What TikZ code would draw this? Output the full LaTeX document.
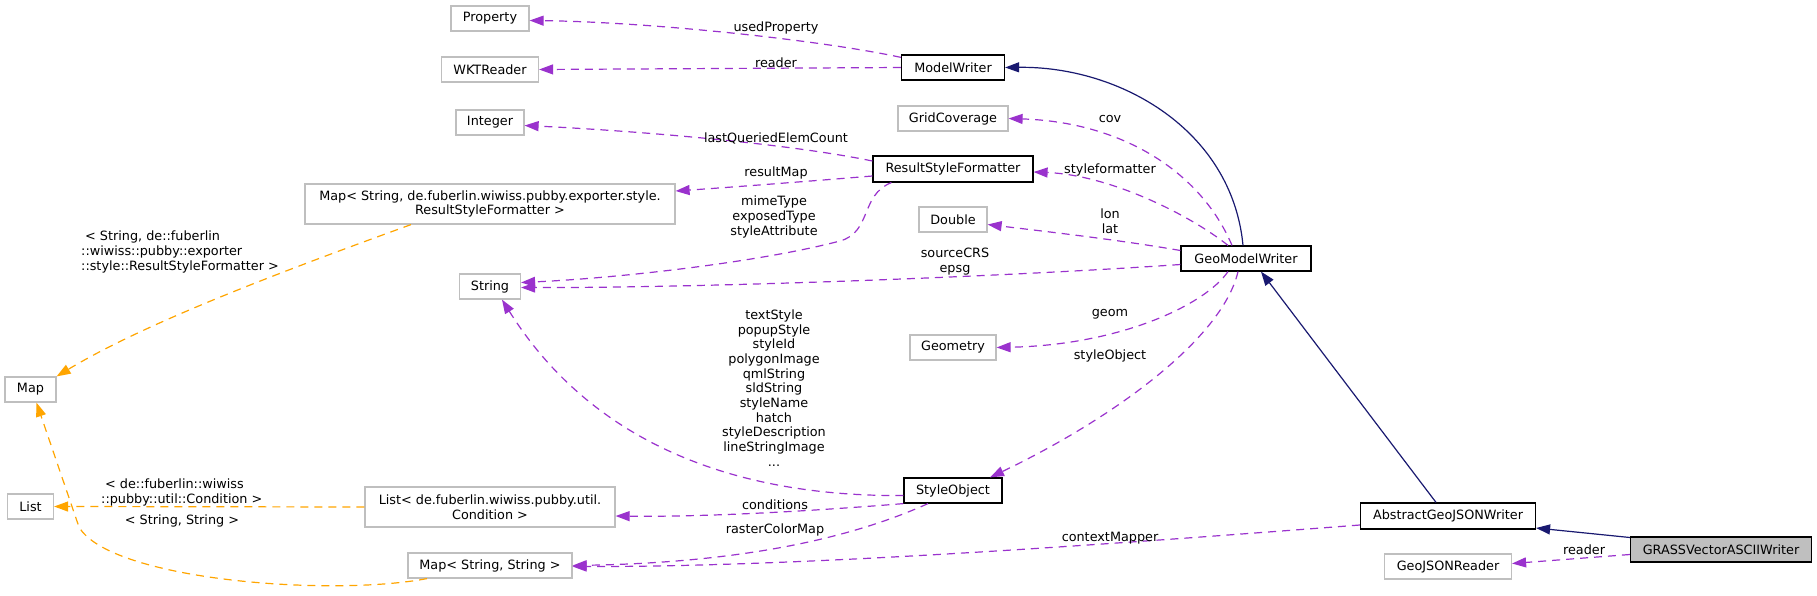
\documentclass[tikz,border=0pt]{standalone}
\usepackage{fontspec}
\setmainfont{DejaVu Sans}
\usetikzlibrary{arrows.meta}
\definecolor{depc}{HTML}{9A32CD}
\definecolor{inhc}{HTML}{191970}
\definecolor{tmplc}{HTML}{FFA500}
\definecolor{gbord}{HTML}{BFBFBF}
\begin{document}
\begin{tikzpicture}[x=1pt,y=-1pt,
  every node/.style={font=\fontsize{12.8}{14.7}\selectfont, inner sep=0pt},
  cls/.style={draw=black, line width=1.2pt, minimum height=25pt, align=center, fill=white},
  ext/.style={draw=gbord, line width=1.2pt, minimum height=25pt, align=center, fill=white},
  lbl/.style={align=center},
  depline/.style={draw=depc, line width=1.2pt, dash pattern=on 8pt off 6pt, -{Triangle[length=14pt,width=10pt]}, depc},
  inhline/.style={draw=inhc, line width=1.2pt, -{Triangle[length=14pt,width=10pt]}, inhc},
  tmplline/.style={draw=tmplc, line width=1.2pt, dash pattern=on 8pt off 6pt, -{Triangle[length=14pt,width=10pt]}, tmplc}
]
\useasboundingbox (0,0) rectangle (1817,595);

% nodes
\node[ext, minimum width=78pt] (prop) at (490,18.5) {Property};
\node[ext, minimum width=97pt] (wkt) at (490,69.5) {WKTReader};
\node[ext, minimum width=68pt] (integer) at (490,122.5) {Integer};
\node[ext, minimum width=370pt, minimum height=40pt] (mapRSF) at (490,204) {Map< String, de.fuberlin.wiwiss.pubby.exporter.style.\\ResultStyleFormatter >};
\node[ext, minimum width=61pt] (string) at (490,286.5) {String};
\node[ext, minimum width=51pt] (map) at (30.5,389.5) {Map};
\node[ext, minimum width=46pt] (list) at (30.5,506.5) {List};
\node[ext, minimum width=250pt, minimum height=40pt] (listCond) at (490,507) {List< de.fuberlin.wiwiss.pubby.util.\\Condition >};
\node[ext, minimum width=164pt] (mapSS) at (490,565.5) {Map< String, String >};
\node[cls, minimum width=103pt] (mw) at (953,67.5) {ModelWriter};
\node[ext, minimum width=110pt] (grid) at (953,118.5) {GridCoverage};
\node[cls, minimum width=160pt, minimum height=26pt] (rsf) at (953,169) {ResultStyleFormatter};
\node[ext, minimum width=68pt] (double) at (953,219.5) {Double};
\node[ext, minimum width=86pt] (geom) at (953,347.5) {Geometry};
\node[cls, minimum width=98pt] (so) at (953,490.5) {StyleObject};
\node[cls, minimum width=130pt] (gmw) at (1246,258.5) {GeoModelWriter};
\node[cls, minimum width=175pt, minimum height=26pt] (agjw) at (1448,516) {AbstractGeoJSONWriter};
\node[cls, minimum width=181pt, fill=gbord] (grass) at (1721,549.5) {GRASSVectorASCIIWriter};
\node[ext, minimum width=127pt] (gjr) at (1448,566.5) {GeoJSONReader};

% dependency edges
\draw[depline] (mw.169) .. controls (820,40) and (650,22) .. ([yshift=-2pt]prop.east);
\draw[depline] (mw.west) -- (wkt.east);
\draw[depline] ([yshift=8pt]rsf.west) .. controls (780,142) and (620,130) .. ([yshift=-3pt]integer.east);
\draw[depline] ([yshift=-7pt]rsf.west) .. controls (800,182) and (720,188) .. ([yshift=13pt]mapRSF.east);
\draw[depline] ([xshift=19pt]rsf.south west) .. controls (860,195) and (872,232) .. (840,241) .. controls (760,262) and (620,278) .. ([yshift=4pt]string.east);
\draw[depline] ([yshift=-6pt]gmw.west) .. controls (1000,277) and (700,288) .. ([yshift=-1pt]string.east);
\draw[depline] ([xshift=-14pt]gmw.north) .. controls (1200,170) and (1120,122) .. (grid.east);
\draw[depline] ([xshift=-18pt]gmw.north) .. controls (1190,215) and (1110,175) .. ([yshift=-3pt]rsf.east);
\draw[depline] ([yshift=8pt]gmw.west) .. controls (1120,240) and (1050,232) .. ([yshift=-5pt]double.east);
\draw[depline] ([xshift=-18pt]gmw.south) .. controls (1205,305) and (1120,345) .. (geom.east);
\draw[depline] ([xshift=-8pt]gmw.south) .. controls (1222,340) and (1110,420) .. ([xshift=37pt]so.north);
\draw[depline] ([yshift=-9pt]agjw.west) .. controls (1100,545) and (800,567) .. ([yshift=-1pt]mapSS.east);
\draw[depline] ([yshift=-5pt]grass.west) -- ([yshift=3pt]gjr.east);
\draw[depline] ([yshift=-5pt]so.west) .. controls (730,497) and (590,440) .. ([xshift=12pt]string.south);
\draw[depline] (so.south west) .. controls (800,512) and (700,517) .. ([yshift=-9pt]listCond.east);
\draw[depline] ([xshift=-25pt]so.south) .. controls (880,525) and (780,562) .. (mapSS.east);

% inheritance edges
\draw[inhline] ([xshift=-3pt]gmw.north) .. controls (1232,130) and (1120,66) .. (mw.east);
\draw[inhline] ([xshift=-12pt]agjw.north) -- ([xshift=15pt]gmw.south);
\draw[inhline] ([yshift=12pt]grass.west) -- ([yshift=-12pt]agjw.east);

% template edges
\draw[tmplline] ([xshift=-79pt]mapRSF.south) .. controls (300,265) and (150,320) .. (map.north east);
\draw[tmplline] (listCond.west) -- (list.east);
\draw[tmplline] ([xshift=-63pt]mapSS.south) .. controls (330,597) and (110,580) .. (79,527) -- ([xshift=6pt]map.south);

% labels
\node[lbl] (lUsed) at (776,28) {usedProperty};
\node[lbl] (lReader) at (776,63) {reader};
\node[lbl] (lLast) at (776,138) {lastQueriedElemCount};
\node[lbl] (lResult) at (776,173) {resultMap};
\node[lbl] (lMime) at (774,217) {mimeType\\exposedType\\styleAttribute};
\node[lbl] (lSrc) at (955,261.5) {sourceCRS\\epsg};
\node[lbl] (lCov) at (1110,119) {cov};
\node[lbl] (lSf) at (1110,170) {styleformatter};
\node[lbl] (lLon) at (1110,221) {lon\\lat};
\node[lbl] (lGeom) at (1110,314) {geom};
\node[lbl] (lSo) at (1110,356) {styleObject};
\node[lbl] (lText) at (774,388) {textStyle\\popupStyle\\styleId\\polygonImage\\qmlString\\sldString\\styleName\\hatch\\styleDescription\\lineStringImage\\...};
\node[lbl] (lCond) at (775,505) {conditions};
\node[lbl] (lRaster) at (775,530) {rasterColorMap};
\node[lbl] (lCtx) at (1110,538) {contextMapper};
\node[lbl] (lReader2) at (1584,550) {reader};
\node[align=left, anchor=west] (lT1) at (81,252) {\hspace{4pt}< String, de::fuberlin\\::wiwiss::pubby::exporter\\::style::ResultStyleFormatter >};
\node[align=left, anchor=west] (lT2) at (101,492.5) {\hspace{4pt}< de::fuberlin::wiwiss\\::pubby::util::Condition >};
\node[lbl] (lT3) at (182,521) {< String, String >};
\end{tikzpicture}
\end{document}
